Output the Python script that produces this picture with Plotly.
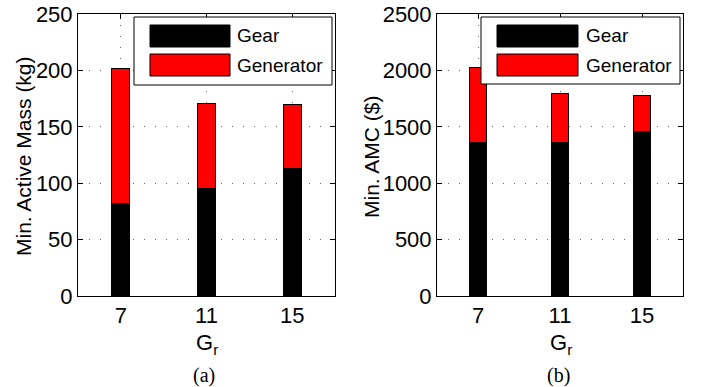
import plotly.graph_objects as go

W, H = 701, 387

categories = [7, 11, 15]
mass_gear = [82, 95, 113]
mass_generator = [120, 76, 56.5]
amc_gear = [1360, 1365, 1460]
amc_generator = [670, 430, 315]

series_names = ["Gear", "Generator"]
series_colors = ["#000000", "#ff0000"]

fig = go.Figure()

bar_w = 0.84
for name, col, vals in zip(series_names, series_colors, [mass_gear, mass_generator]):
    fig.add_trace(go.Bar(x=categories, y=vals, name=name, marker_color=col,
                         marker_line=dict(color="black", width=1), width=bar_w,
                         xaxis="x", yaxis="y", showlegend=False))
for name, col, vals in zip(series_names, series_colors, [amc_gear, amc_generator]):
    fig.add_trace(go.Bar(x=categories, y=vals, name=name, marker_color=col,
                         marker_line=dict(color="black", width=1), width=bar_w,
                         xaxis="x2", yaxis="y2", showlegend=False))

def px(x):
    return x / W

def py(y):
    return 1 - y / H

tickfont = dict(family="Liberation Sans, Arial", size=22, color="black")
titlefont = dict(family="Liberation Sans, Arial", size=21, color="black")
axis_common = dict(showline=True, linecolor="black", linewidth=1, mirror="ticks",
                   ticks="inside", ticklen=5, tickcolor="black", tickfont=tickfont,
                   showgrid=True, gridcolor="#666666", griddash="1px,10px", gridwidth=1,
                   zeroline=False, automargin=False, ticklabeloverflow="allow")

yd = [py(296), py(14)]
fig.update_layout(
    width=W, height=H, margin=dict(l=0, r=0, t=0, b=0),
    paper_bgcolor="white", plot_bgcolor="white", barmode="stack",
    xaxis=dict(domain=[px(78), px(335)], range=[5, 17], tickvals=categories,
               anchor="y", **axis_common),
    yaxis=dict(domain=yd, range=[0, 250], tickvals=[0, 50, 100, 150, 200, 250],
               anchor="x", **axis_common),
    xaxis2=dict(domain=[px(437), px(683)], range=[5, 17], tickvals=categories,
                anchor="y2", **axis_common),
    yaxis2=dict(domain=yd, range=[0, 2500], tickvals=[0, 500, 1000, 1500, 2000, 2500],
                anchor="x2", **axis_common),
    bargap=0,
)

shapes = []
annotations = []

def legend(box, sw, tx):
    x0, y0, x1, y1 = box
    shapes.append(dict(type="rect", xref="paper", yref="paper", x0=px(x0), x1=px(x1),
                       y0=py(y1), y1=py(y0), line=dict(color="black", width=1),
                       fillcolor="white", layer="above"))
    sx0, sx1 = sw
    rows = [(25, 47), (54, 76)]
    for (ry0, ry1), name, col in zip(rows, series_names, series_colors):
        shapes.append(dict(type="rect", xref="paper", yref="paper", x0=px(sx0), x1=px(sx1),
                           y0=py(ry1), y1=py(ry0), line=dict(color="black", width=1),
                           fillcolor=col, layer="above"))
        annotations.append(dict(xref="paper", yref="paper", x=px(tx), y=py((ry0 + ry1) / 2),
                                text=name, showarrow=False, xanchor="left", yanchor="middle",
                                font=dict(family="Liberation Sans, Arial", size=19, color="black")))

legend((134, 17, 332, 85), (150, 230), 235)
legend((481, 17, 680, 84), (497, 578), 584)

def text(txt, x, y, font, angle=0):
    annotations.append(dict(xref="paper", yref="paper", x=px(x), y=py(y), text=txt,
                            showarrow=False, xanchor="center", yanchor="middle",
                            textangle=angle, font=font))

serif = dict(family="Liberation Serif, Times New Roman", size=20, color="black")
text("Min. Active Mass (kg)", 23, 156, titlefont, -90)
text("Min. AMC ($)", 371, 157, titlefont, -90)
text("G<sub>r</sub>", 207, 344, tickfont)
text("G<sub>r</sub>", 561, 344, tickfont)
text("(a)", 204, 375, serif)
text("(b)", 558, 375, serif)

fig.update_layout(shapes=shapes, annotations=annotations)
fig.write_html("out.html", config={"displayModeBar": False, "staticPlot": True},
               post_script="document.body.style.margin='0';document.body.style.overflow='hidden';")
